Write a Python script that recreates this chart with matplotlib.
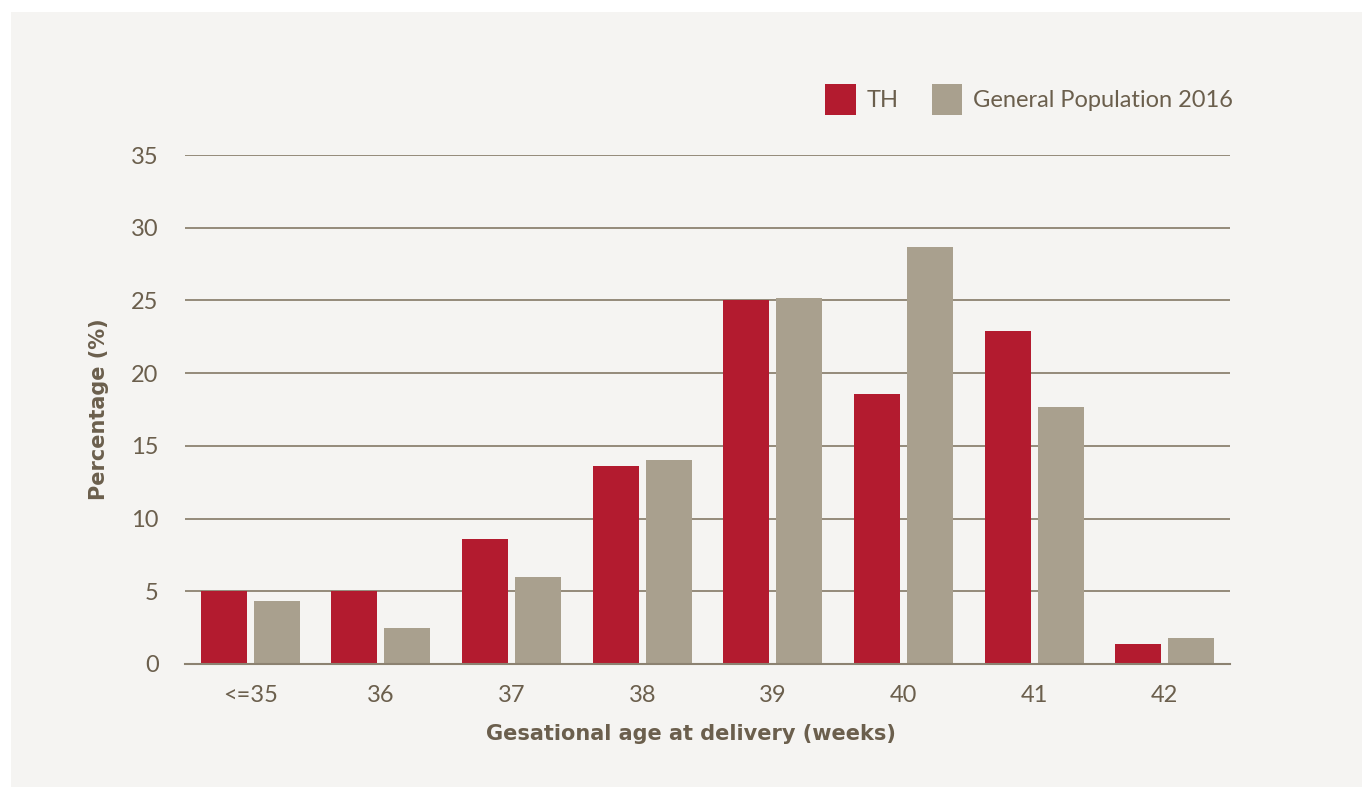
import numpy as np
import matplotlib.pyplot as plt
from matplotlib.patches import Rectangle

# data
categories = ["<=35", "36", "37", "38", "39", "40", "41", "42"]
th_values = [5.0, 5.0, 8.6, 13.6, 25.0, 18.6, 22.9, 1.4]
gp_values = [4.3, 2.5, 6.0, 14.0, 25.2, 28.7, 17.7, 1.8]

TH_COLOR = "#B31B2F"
GP_COLOR = "#A9A08E"
TEXT_COLOR = "#6B5F4D"
GRID_COLOR = "#8C8271"
BG_COLOR = "#F5F4F2"

plt.rcParams['font.family'] = ['Lato', 'DejaVu Sans']

fig = plt.figure(figsize=(13.62, 7.87), dpi=100, facecolor="white")
# grey panel behind everything
fig.add_artist(Rectangle((11 / 1362, 0), 1 - 11 / 1362, 1 - 12 / 787,
                         transform=fig.transFigure, facecolor=BG_COLOR,
                         edgecolor="none", zorder=-10))

ax = fig.add_axes([185 / 1362, 1 - 664 / 787, (1230 - 185) / 1362, (664 - 155) / 787])
ax.set_facecolor("none")
ax.set_zorder(1)

x = np.arange(len(categories))
width = 0.352
offset = 0.203
ax.bar(x - offset, th_values, width, color=TH_COLOR, label="TH", zorder=3)
ax.bar(x + offset, gp_values, width, color=GP_COLOR, label="General Population 2016", zorder=3)

ax.set_xlim(-0.5, len(categories) - 0.5)
ax.set_ylim(0, 35)
ax.set_yticks(range(0, 36, 5))
ax.set_xticks(x)
ax.set_xticklabels(categories)

ax.yaxis.grid(True, color=GRID_COLOR, linewidth=1.3, zorder=1)
ax.set_axisbelow(True)
for s in ["top", "right", "left"]:
    ax.spines[s].set_visible(False)
ax.spines["bottom"].set_color(GRID_COLOR)
ax.spines["bottom"].set_linewidth(1.5)
ax.spines["bottom"].set_zorder(4)

ax.tick_params(axis="both", length=0, labelsize=17, labelcolor=TEXT_COLOR)
ax.tick_params(axis="y", pad=19)
ax.tick_params(axis="x", pad=15)

label_font = dict(family="DejaVu Sans", fontsize=15, fontweight="bold", color=TEXT_COLOR)
ax.set_xlabel("Gesational age at delivery (weeks)", **label_font)
ax.xaxis.set_label_coords(0.484, -0.118)
ax.set_ylabel("Percentage (%)", labelpad=16, **label_font)

leg = ax.legend(loc="lower right", bbox_to_anchor=(1.012, 1.06), ncol=2, frameon=False,
                fontsize=17, handlelength=1.3, handleheight=1.65, handletextpad=0.45,
                columnspacing=1.4, borderaxespad=0)
for t in leg.get_texts():
    t.set_color(TEXT_COLOR)

fig.savefig("out.png", dpi=100, facecolor=fig.get_facecolor())
